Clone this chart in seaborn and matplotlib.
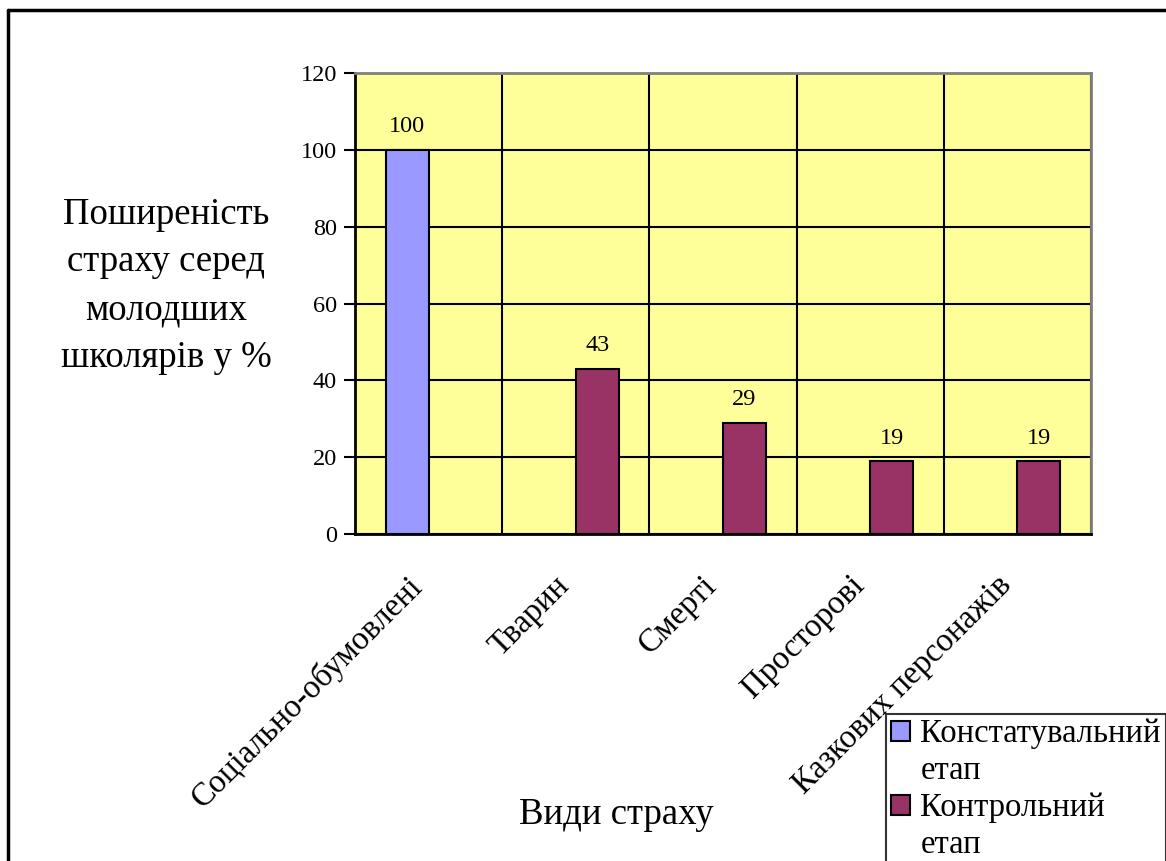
import numpy as np
import pandas as pd
import seaborn as sns
import matplotlib.pyplot as plt
from matplotlib.lines import Line2D
from matplotlib.patches import Rectangle

# Data
categories = ["Соціально-обумовлені", "Тварин", "Смерті", "Просторові", "Казкових персонажів"]
stages = ["Констатувальний етап", "Контрольний етап"]
konst_values = [100, np.nan, np.nan, np.nan, np.nan]
kontr_values = [np.nan, 43, 29, 19, 19]
y_ticks = [0, 20, 40, 60, 80, 100, 120]

colors = ["#9999FF", "#993366"]

df = pd.DataFrame({
    "category": categories * 2,
    "stage": [stages[0]] * len(categories) + [stages[1]] * len(categories),
    "value": konst_values + kontr_values,
}).dropna()

sns.set_style("white")
plt.rcParams["font.family"] = ["Liberation Serif", "DejaVu Serif"]
plt.rcParams["text.color"] = "black"
plt.rcParams["axes.labelcolor"] = "black"
plt.rcParams["xtick.color"] = "black"
plt.rcParams["ytick.color"] = "black"

W, H = 1166, 861
fig = plt.figure(figsize=(W / 100, H / 100), dpi=100)
ax = fig.add_axes([355 / W, 1 - 534 / H, (1091 - 355) / W, (534 - 73) / H])
ax.set_facecolor("#FFFF99")

sns.barplot(data=df, x="category", y="value", hue="stage", order=categories,
            hue_order=stages, palette=colors, saturation=1, dodge=True,
            width=0.585, edgecolor="black", linewidth=1.5, errorbar=None, ax=ax)

for c in ax.containers:
    ax.bar_label(c, fmt="%g", padding=9, fontsize=17.5)

ax.set_ylim(0, 120)
ax.set_xlim(-0.5, len(categories) - 0.5)
ax.set_yticks(y_ticks)
ax.set_yticklabels([str(t) for t in y_ticks], fontsize=17.5)
ax.set_xticks(range(len(categories)))
ax.set_xticklabels(categories, rotation=45, ha="right", fontsize=23.5)
ax.set_xticks(np.arange(-0.5, len(categories), 1), minor=True)

# gridlines: horizontal at values, vertical at category borders
ax.set_axisbelow(True)
ax.yaxis.grid(True, color="black", lw=1.5)
ax.xaxis.grid(True, which="minor", color="black", lw=1.5)
ax.xaxis.grid(False, which="major")

ax.tick_params(axis="x", which="major", length=0, pad=26)
ax.tick_params(axis="x", which="minor", length=8, width=1.5, direction="out", color="black")
ax.tick_params(axis="y", length=8, width=1.5, direction="out", color="black", pad=5, left=True)

for side in ["left", "bottom"]:
    ax.spines[side].set_color("black")
    ax.spines[side].set_linewidth(2)
for side in ["top", "right"]:
    ax.spines[side].set_color("#808080")
    ax.spines[side].set_linewidth(2)

ax.set_ylabel("Поширеність\nстраху серед\nмолодших\nшколярів у %", rotation=0,
              fontsize=26.5, ha="center", va="center", linespacing=1.5)
ax.yaxis.set_label_coords((166 - 355) / (1091 - 355), (534 - 286) / (534 - 73))
ax.set_xlabel("Види страху", fontsize=26.5, va="center")
ax.xaxis.set_label_coords((616 - 355) / (1091 - 355), (534 - 815) / (534 - 73))

# legend: marker on first line, wrapped word on its own line
handles, labels = ax.get_legend_handles_labels()
ax.get_legend().remove()
blank = Rectangle((0, 0), 1, 1, facecolor="none", edgecolor="none")
leg_handles, leg_labels = [], []
for h, l in zip(handles, labels):
    first, second = l.split(" ", 1)
    leg_handles += [h, blank]
    leg_labels += [first, second]
leg = ax.legend(leg_handles, leg_labels,
                loc="upper left", bbox_to_anchor=(886 / W, 1 - 714 / H),
                bbox_transform=fig.transFigure, fontsize=23.5, frameon=True,
                fancybox=False, handlelength=0.6, handleheight=0.6,
                handletextpad=0.3, labelspacing=0.2, borderpad=0.15,
                borderaxespad=0)
leg.get_frame().set_edgecolor("black")
leg.get_frame().set_linewidth(1.5)

# outer frame (left and top sides visible)
fig.add_artist(Line2D([8 / W, 8 / W], [0, 1 - 10 / H], transform=fig.transFigure,
                      color="black", lw=2.5))
fig.add_artist(Line2D([8 / W, 1], [1 - 10 / H, 1 - 10 / H], transform=fig.transFigure,
                      color="black", lw=2.5))

plt.savefig("out.png", dpi=100)
